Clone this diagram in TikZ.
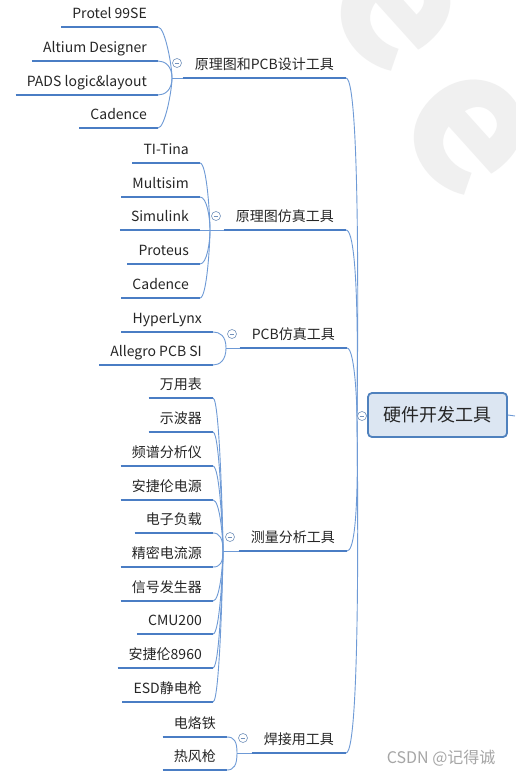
\documentclass[tikz,border=0pt]{standalone}
\usepackage{fontspec}
\setmainfont{Noto Sans CJK SC}
\usetikzlibrary{positioning}

\definecolor{ulblue}{HTML}{4A7DC4}
\definecolor{lkblue}{HTML}{6E9AD6}
\definecolor{rootfill}{HTML}{DCE6F2}
\definecolor{rootdraw}{HTML}{4F81BD}
\definecolor{txtgray}{HTML}{262626}

\tikzset{
  item/.style={anchor=south east, inner xsep=11pt, inner ysep=5pt, text height=10pt, text depth=3pt,
    font=\fontsize{14}{16}\selectfont, text=txtgray},
  topic/.style={item, inner xsep=12pt},
  uline/.style={draw=ulblue, line width=2.6pt},
  link/.style={draw=lkblue, line width=0.9pt},
  up/.style={out=0, in=90, out distance=7pt, in distance=12pt},
  down/.style={out=0, in=-90, out distance=7pt, in distance=12pt},
  fold/.style={draw=lkblue!70!gray, circle, line width=0.6pt, minimum size=9pt, inner sep=0pt, fill=white,
    path picture={\draw[lkblue!70!gray, line width=0.6pt] ([xshift=-2.3pt]path picture bounding box.center) -- ([xshift=2.3pt]path picture bounding box.center);}},
}

\begin{document}
\begin{tikzpicture}[x=1pt, y=-1pt]
        \useasboundingbox (0,0) rectangle (515,778);
        \fill[white] (0,0) rectangle (515,778);

        % 背景水印
        \begin{scope}
          \clip (0,0) rectangle (515,778);
          \node[rotate=-48, text=black!6, font=\fontsize{190}{190}\selectfont\bfseries] (wm1) at (468,132) {e};
          \node[rotate=-48, text=black!6, font=\fontsize{190}{190}\selectfont\bfseries] (wm2) at (395,8) {e};
        \end{scope}

        % 中心主题
        \node[draw=rootdraw, fill=rootfill, line width=1.8pt, rounded corners=4pt, minimum width=139pt, minimum height=44pt,
          font=\fontsize{18}{20}\selectfont, text=txtgray] (root) at (437.5,415) {硬件开发工具};
        \coordinate (hub) at (357,416);
        \coordinate (rootout) at (515,416);
        \draw[link] (root.east) -- (rootout);
        \draw[link] (hub) -- (root.west);

        % 原理图和PCB设计工具
        \node[item] (sch1) at (158,27) {Protel 99SE};
        \node[item] (sch2) at (158,61) {Altium Designer};
        \node[item] (sch3) at (158,95) {PADS logic\&layout};
        \node[item] (sch4) at (158,128) {Cadence};
        \coordinate (j1) at (172,78);
        \node[topic] (sch) at (346,78) {原理图和PCB设计工具};

        % 原理图仿真工具
        \node[item] (sim1) at (200,163) {TI-Tina};
        \node[item] (sim2) at (200,197) {Multisim};
        \node[item] (sim3) at (200,230) {Simulink};
        \node[item] (sim4) at (200,264) {Proteus};
        \node[item] (sim5) at (200,298) {Cadence};
        \coordinate (j2) at (210,230);
        \node[topic] (sim) at (346,230) {原理图仿真工具};

        % PCB仿真工具
        \node[item] (si1) at (213,332) {HyperLynx};
        \node[item] (si2) at (213,365) {Allegro PCB SI};
        \coordinate (j3) at (226,348);
        \node[topic] (si) at (347,348) {PCB仿真工具};

        % 测量分析工具
        \node[item] (meas1) at (213,398) {万用表};
        \node[item] (meas2) at (213,432) {示波器};
        \node[item] (meas3) at (213,466) {频谱分析仪};
        \node[item] (meas4) at (213,500) {安捷伦电源};
        \node[item] (meas5) at (213,533) {电子负载};
        \node[item] (meas6) at (213,567) {精密电流源};
        \node[item] (meas7) at (213,601) {信号发生器};
        \node[item] (meas8) at (213,634) {CMU200};
        \node[item] (meas9) at (213,668) {安捷伦8960};
        \node[item] (meas10) at (213,702) {ESD静电枪};
        \coordinate (j4) at (223,551);
        \node[topic] (meas) at (347,551) {测量分析工具};

        % 焊接用工具
        \node[item] (weld1) at (227,737) {电烙铁};
        \node[item] (weld2) at (227,770) {热风枪};
        \coordinate (j5) at (237,753);
        \node[topic] (weld) at (346,753) {焊接用工具};

        % 下划线
        \foreach \n in {sch1,sch2,sch3,sch4,sch,sim1,sim2,sim3,sim4,sim5,sim,si1,si2,si,
                        meas1,meas2,meas3,meas4,meas5,meas6,meas7,meas8,meas9,meas10,meas,weld1,weld2,weld}
          \draw[uline] (\n.south west) -- (\n.south east);

        % 子主题连线
        \foreach \n in {sch1,sch2} \draw[link] (\n.south east) to[up] (j1);
        \foreach \n in {sch3,sch4} \draw[link] (\n.south east) to[down] (j1);
        \foreach \n in {sim1,sim2} \draw[link] (\n.south east) to[up] (j2);
        \draw[link] (sim3.south east) -- (j2);
        \foreach \n in {sim4,sim5} \draw[link] (\n.south east) to[down] (j2);
        \draw[link] (si1.south east) to[up] (j3);
        \draw[link] (si2.south east) to[down] (j3);
        \foreach \n in {meas1,meas2,meas3,meas4,meas5} \draw[link] (\n.south east) to[up] (j4);
        \foreach \n in {meas6,meas7,meas8,meas9,meas10} \draw[link] (\n.south east) to[down] (j4);
        \draw[link] (weld1.south east) to[up] (j5);
        \draw[link] (weld2.south east) to[down] (j5);

        % 分支到主题
        \draw[link] (j1) -- (sch.south west);
        \draw[link] (j2) -- (sim.south west);
        \draw[link] (j3) -- (si.south west);
        \draw[link] (j4) -- (meas.south west);
        \draw[link] (j5) -- (weld.south west);
        \draw[link] (sch.south east) to[out=0,in=90,looseness=0.12] (hub);
        \draw[link] (sim.south east) to[out=0,in=90,looseness=0.2] (hub);
        \draw[link] (si.south east) to[out=0,in=90,looseness=0.3] (hub);
        \draw[link] (meas.south east) to[out=0,in=-90,looseness=0.25] (hub);
        \draw[link] (weld.south east) to[out=0,in=-90,looseness=0.12] (hub);

        % 折叠按钮
        \node[fold] (f1) at ([shift={(5,-15)}]j1) {};
        \node[fold] (f2) at ([shift={(6,-14)}]j2) {};
        \node[fold] (f3) at ([shift={(6,-14)}]j3) {};
        \node[fold] (f4) at ([shift={(7,-14)}]j4) {};
        \node[fold] (f5) at ([shift={(6,-15)}]j5) {};
        \node[fold] (f0) at (362,416) {};

        % 水印
        \node[anchor=east, text=black!35, font=\fontsize{16}{18}\selectfont] (csdn) at (499,758) {CSDN @记得诚};
\end{tikzpicture}
\end{document}
